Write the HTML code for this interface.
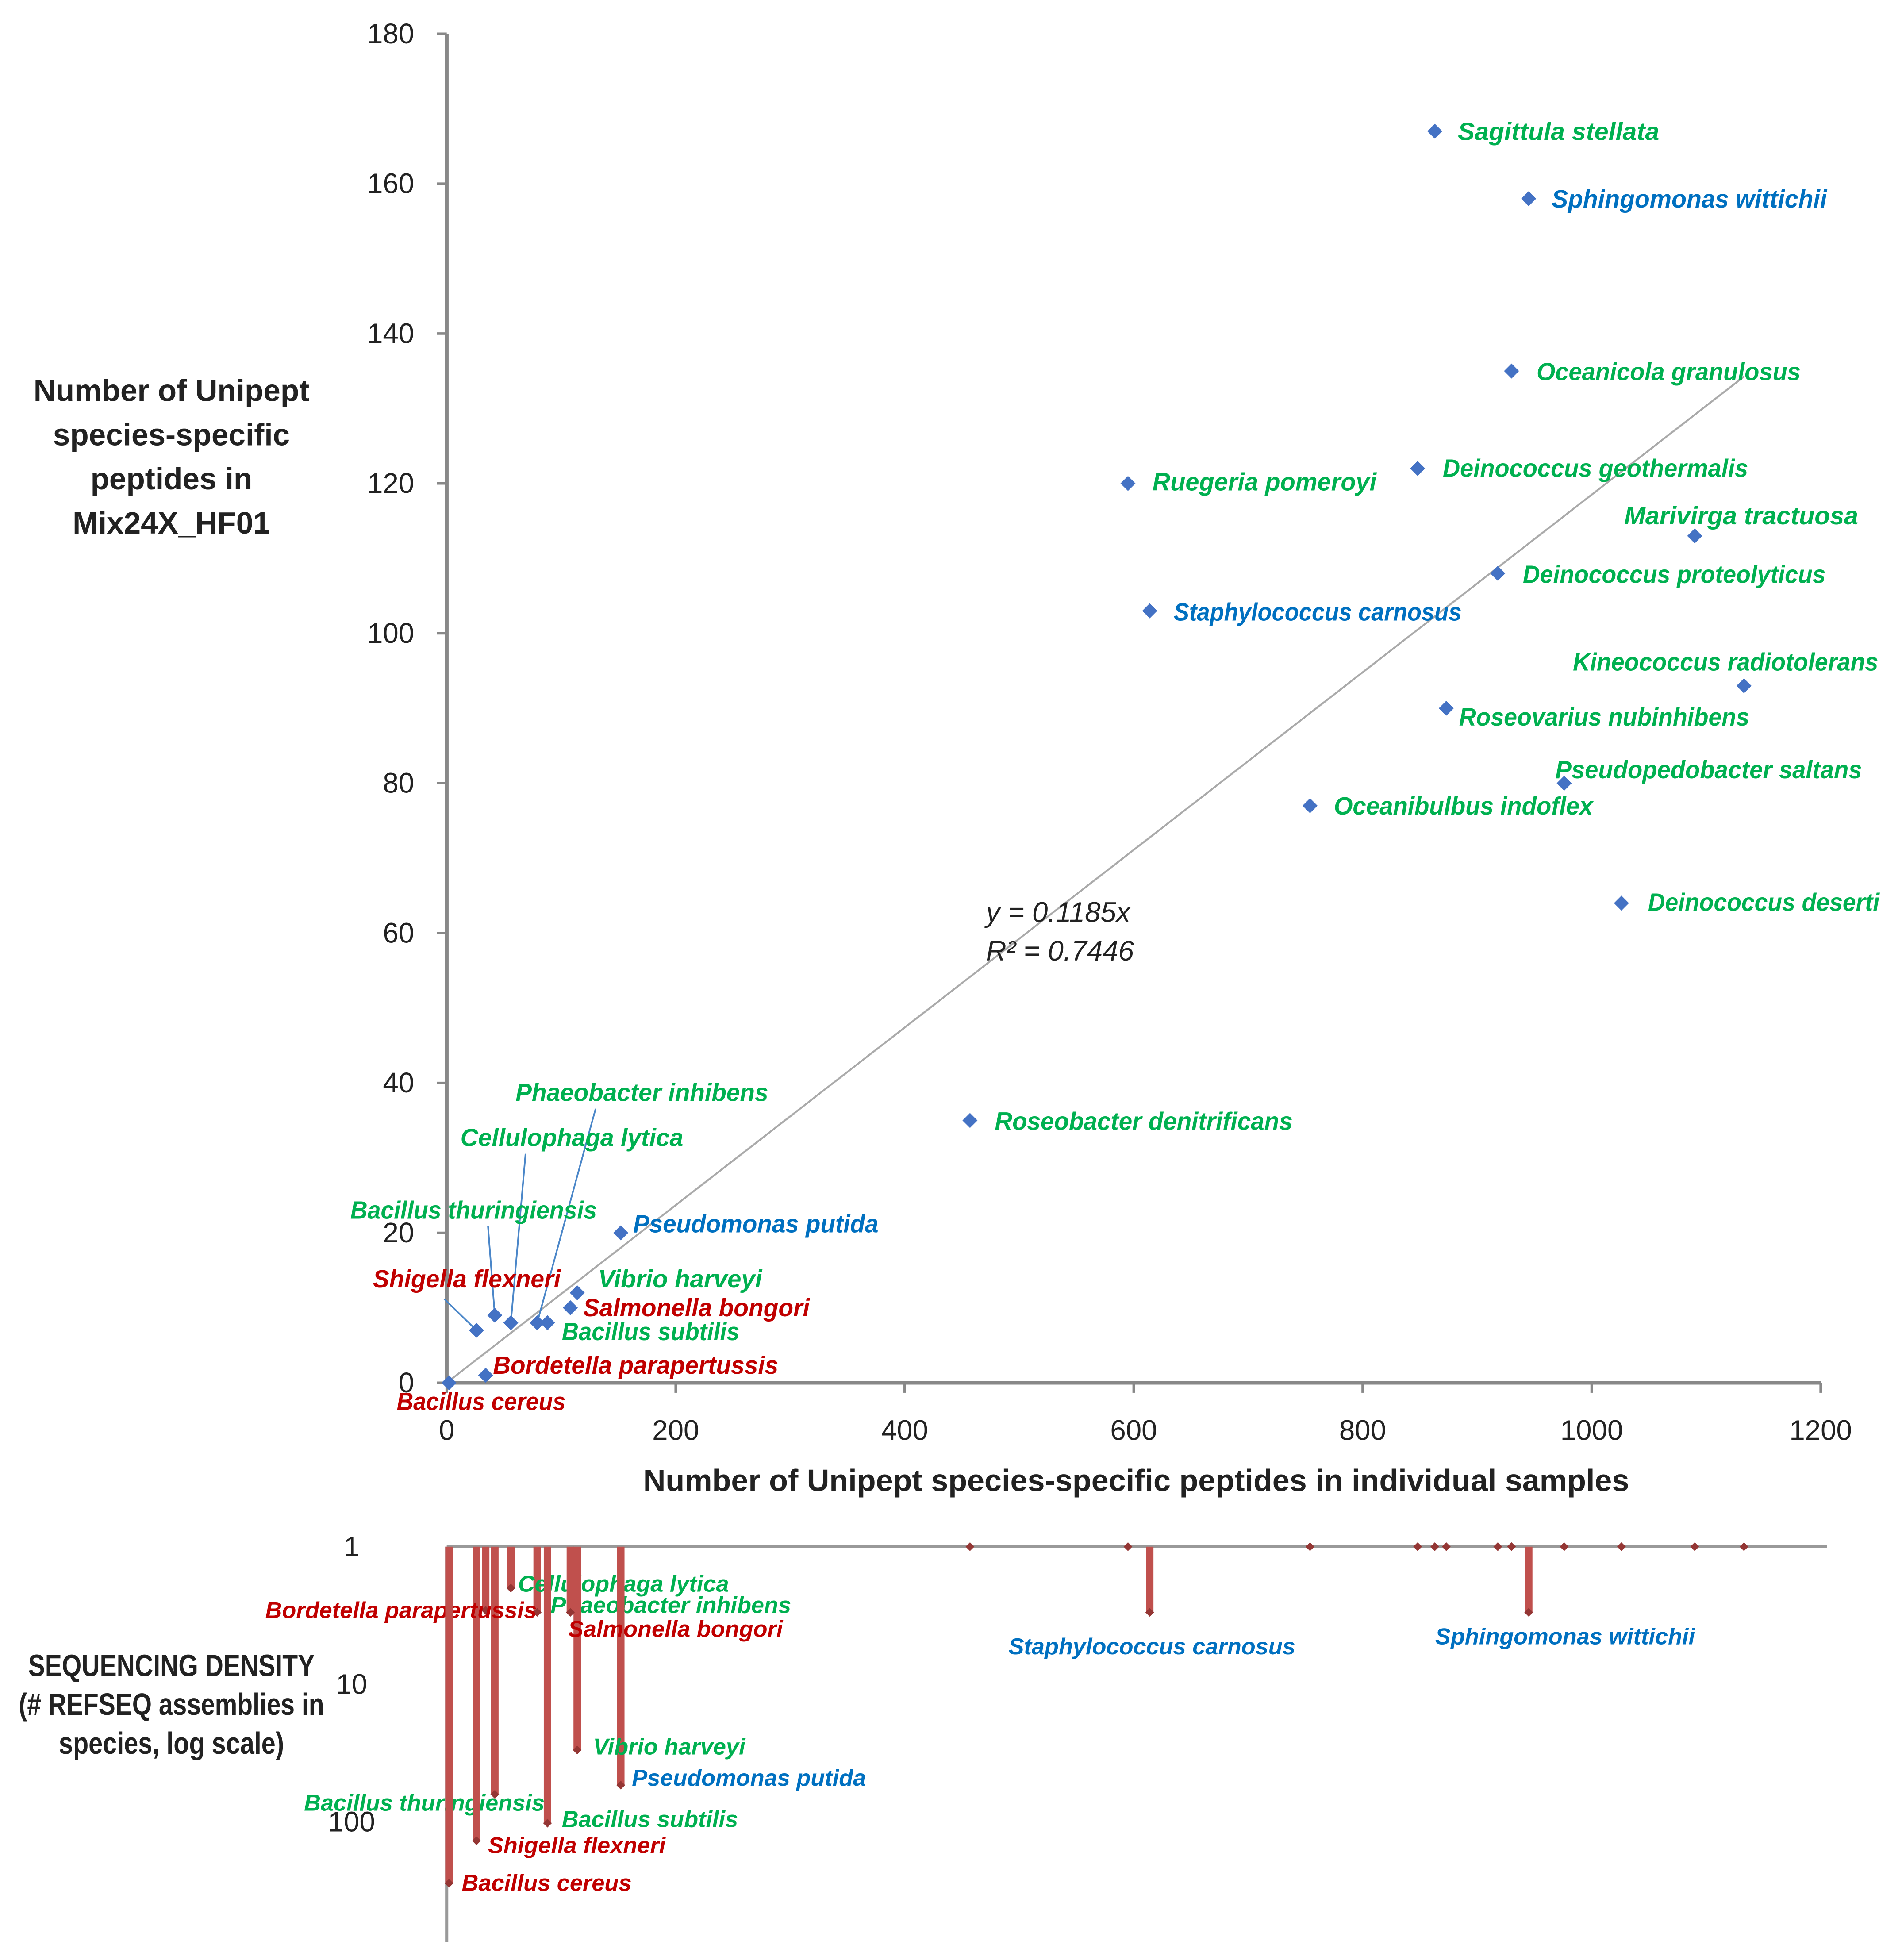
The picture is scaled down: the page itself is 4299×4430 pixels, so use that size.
<!DOCTYPE html>
<html><head><meta charset="utf-8"><style>
html,body{margin:0;padding:0;background:#fff}
svg{display:block}
text{font-family:"Liberation Sans",Arial,sans-serif}
.sp{font-weight:bold;font-style:italic;font-size:20px}
.spb{font-weight:bold;font-style:italic;font-size:18.5px}
.tk{font-size:22.5px;fill:#222}
.ttl{font-weight:bold;font-size:24.5px;fill:#222}
</style></head><body>
<svg id="chart" width="4299" height="4430" viewBox="0 0 1520 1566.3" xmlns="http://www.w3.org/2000/svg">
<g id="g"></g>
</svg>
<script>
// ---- data ----
const species = ["Sagittula stellata","Sphingomonas wittichii","Oceanicola granulosus","Deinococcus geothermalis","Ruegeria pomeroyi","Marivirga tractuosa","Deinococcus proteolyticus","Staphylococcus carnosus","Kineococcus radiotolerans","Roseovarius nubinhibens","Pseudopedobacter saltans","Oceanibulbus indoflex","Deinococcus deserti","Roseobacter denitrificans","Phaeobacter inhibens","Cellulophaga lytica","Bacillus thuringiensis","Pseudomonas putida","Shigella flexneri","Vibrio harveyi","Salmonella bongori","Bacillus subtilis","Bordetella parapertussis","Bacillus cereus"];
const individualPeptides = [863,945,930,848,595,1090,918,614,1133,873,976,754,1026,457,79,56,42,152,26,114,108,88,34,2];
const mixPeptides = [167,158,135,122,120,113,108,103,93,90,80,77,64,35,8,8,9,20,7,12,10,8,1,0];
const assemblies = [1,3,1,1,1,1,1,3,1,1,1,1,1,1,3,2,63,54,137,30,3,102,2.9,279];
const group = ["g","b","g","g","g","g","g","b","g","g","g","g","g","g","g","g","g","b","r","g","r","g","r","r"];
const xTicks = [0,200,400,600,800,1000,1200];
const yTicks = [0,20,40,60,80,100,120,140,160,180];
const logTicks = [1,10,100];
const slope = 0.1185;
const rSquared = 0.7446;
// ---- layout (pixel positions, not data) ----
const X0=357, XS=1098/1200, Y0=1105, YS=1078/180;
const LB=1236, LD=110;
const sx=v=>X0+v*XS, sy=v=>Y0-v*YS, sl=v=>LB+Math.log10(v)*LD;
const colorOf={g:"#00b050",b:"#0070c0",r:"#c00000"};
const topLabelPos=[[1165,105],[1240,159],[1228,297],[1153,374],[921,385],[1298,412],[1217,459],[938,489],[1257,529],[1166,573],[1243,615],[1066,644],[1317,721],[795,896],[412,873],[368,909],[280,967],[506,978],[298,1022],[478,1022],[466,1045],[449,1064],[394,1091],[317,1120]];
const topLabelLen=[161,220,211,244,179,187,242,230,244,232,245,207,185,238,202,178,197,196,150,131,181,142,228,135];
const botLabelPos={"Cellulophaga lytica":[414,1266],"Bordetella parapertussis":[212,1287],"Phaeobacter inhibens":[440,1283],"Salmonella bongori":[454,1302],"Staphylococcus carnosus":[806,1316],"Sphingomonas wittichii":[1147,1308],"Vibrio harveyi":[474,1396],"Pseudomonas putida":[505,1421],"Bacillus thuringiensis":[243,1441],"Bacillus subtilis":[449,1454],"Shigella flexneri":[390,1475],"Bacillus cereus":[369,1505]};
const leaders={"Phaeobacter inhibens":[476,886],"Cellulophaga lytica":[420,922],"Bacillus thuringiensis":[390,980],"Shigella flexneri":[355,1038]};

const NS="http://www.w3.org/2000/svg";
const g=document.getElementById('g');
function mk(tag,attrs,parent){const e=document.createElementNS(NS,tag);for(const k in attrs)e.setAttribute(k,attrs[k]);(parent||g).appendChild(e);return e;}
function txt(s,x,y,cls,extra){const e=mk('text',Object.assign({x:x,y:y,class:cls,'dominant-baseline':'central'},extra||{}));e.textContent=s;return e;}

let e;
e=mk('line',{x1:X0,y1:sy(180),x2:X0,y2:Y0,stroke:'#888','stroke-width':3});


e=mk('line',{x1:X0,y1:Y0,x2:sx(1200),y2:Y0,stroke:'#888','stroke-width':3});


yTicks.forEach(t=>{
  mk('line',{x1:X0-8,y1:sy(t),x2:X0,y2:sy(t),stroke:'#888','stroke-width':2});
  e=txt(String(t),331,sy(t),'tk',{'text-anchor':'end'});
  
  
});
xTicks.forEach(t=>{
  mk('line',{x1:sx(t),y1:Y0,x2:sx(t),y2:Y0+8,stroke:'#888','stroke-width':2});
  e=txt(String(t),sx(t),1143,'tk',{'text-anchor':'middle'});
  
  
});
const xMax=Math.max(...individualPeptides);
e=mk('line',{x1:sx(0),y1:sy(0),x2:sx(xMax),y2:sy(slope*xMax),stroke:'#aaa','stroke-width':1.5});


e=txt('y = '+slope+'x',788,729,'tk',{'font-style':'italic','font-size':20});


e=txt('R\u00B2 = '+rSquared,788,760,'tk',{'font-style':'italic','font-size':20});



species.forEach((s,i)=>{
  if(leaders[s]){
    e=mk('line',{x1:leaders[s][0],y1:leaders[s][1],x2:sx(individualPeptides[i]),y2:sy(mixPeptides[i]),stroke:'#4a86c8','stroke-width':1.3});
    
    
  }
});
species.forEach((s,i)=>{
  const x=sx(individualPeptides[i]),y=sy(mixPeptides[i]);
  e=mk('path',{d:`M${x},${y-6}L${x+6},${y}L${x},${y+6}L${x-6},${y}Z`,fill:'#4472c4'});
  
  
  const p=topLabelPos[i];
  e=txt(s,p[0],p[1],'sp',{fill:colorOf[group[i]],textLength:topLabelLen[i],lengthAdjust:'spacingAndGlyphs'});
  
  
});
const yt=["Number of Unipept","species-specific","peptides in","Mix24X_HF01"];
yt.forEach((l,i)=>{e=txt(l,137,312+i*35.3,'ttl',{'text-anchor':'middle'});
  
  });
e=txt('Number of Unipept species-specific peptides in individual samples',908,1183,'ttl',{'text-anchor':'middle',textLength:788,lengthAdjust:'spacingAndGlyphs'});



e=mk('line',{x1:X0,y1:LB,x2:1460,y2:LB,stroke:'#999','stroke-width':2});


e=mk('line',{x1:X0,y1:LB,x2:X0,y2:1552,stroke:'#999','stroke-width':2.5});


logTicks.forEach(t=>{
  e=txt(String(t),281,sl(t),'tk',{'text-anchor':'middle'});
  
  
});
[["SEQUENCING DENSITY",229],["(# REFSEQ assemblies in",244],["species, log scale)",180]].forEach((l,i)=>{
  e=txt(l[0],137,1331+i*31,'ttl',{'text-anchor':'middle','font-size':19.5,textLength:l[1],lengthAdjust:'spacingAndGlyphs'});
  
  
});
species.forEach((s,i)=>{
  const x=sx(individualPeptides[i]),y=sl(assemblies[i]);
  if(y-LB>0.5){
    e=mk('rect',{x:x-3,y:LB,width:6,height:y-LB,fill:'#c0504d'});
    
    
  }
  e=mk('path',{d:`M${x},${y-3.5}L${x+3.5},${y}L${x},${y+3.5}L${x-3.5},${y}Z`,fill:'#943634'});
  
  
  if(botLabelPos[s]){
    e=txt(s,botLabelPos[s][0],botLabelPos[s][1],'spb',{fill:colorOf[group[i]]});
    
    
  }
});
</script>
</body></html>
